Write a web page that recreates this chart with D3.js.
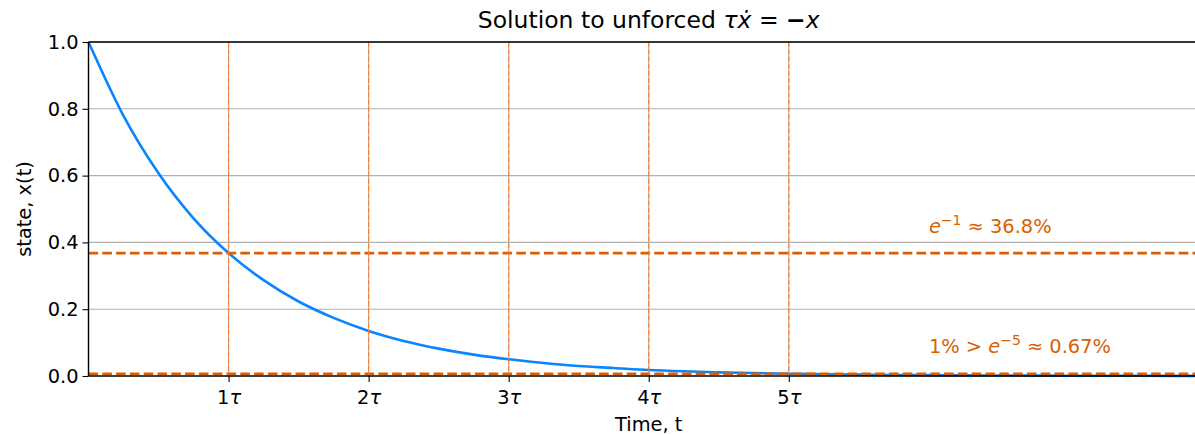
<!DOCTYPE html>
<html>
<head>
<meta charset="utf-8">
<script src="https://cdn.jsdelivr.net/npm/d3@7"></script>
<style>
  html, body { margin: 0; padding: 0; background: #fff; overflow: hidden; }
  svg { display: block; font-family: "DejaVu Sans", sans-serif; }
</style>
</head>
<body>
<svg id="chart" width="1195" height="435"></svg>
<script>
// Unforced first-order response, time in units of tau
const timeT = [0, 0.25, 0.5, 0.75, 1, 1.25, 1.5, 1.75, 2, 2.25, 2.5, 2.75, 3, 3.25, 3.5, 3.75, 4,
               4.25, 4.5, 4.75, 5, 5.25, 5.5, 5.75, 6, 6.25, 6.5, 6.75, 7, 7.25, 7.5, 7.75, 8];
const stateX = [1, 0.779, 0.607, 0.472, 0.368, 0.287, 0.223, 0.174, 0.135, 0.105, 0.082, 0.064, 0.050,
                0.039, 0.030, 0.024, 0.018, 0.014, 0.011, 0.0087, 0.0067, 0.0052, 0.0041, 0.0032,
                0.0025, 0.0019, 0.0015, 0.0012, 0.0009, 0.0007, 0.00055, 0.00043, 0.00034];

// Time-constant markers and their tick labels
const tauTicks = [1, 2, 3, 4, 5];
const tauLabels = ["1", "2", "3", "4", "5"];
const yTicks = [0.0, 0.2, 0.4, 0.6, 0.8, 1.0];

// Reference levels and their annotations
const refLevels = [0.368, 0.0067];
const refLabelX = [6, 6];
const refLabelY = [0.428, 0.069];

const svg = d3.select("#chart");
const mLeft = 88.5, mTop = 42, mBottom = 376, mRight = 1209;

const x = d3.scaleLinear().domain([0, 8]).range([mLeft, mRight]);
const y = d3.scaleLinear().domain([0, 1]).range([mBottom, mTop]);

const fontSize = 19.4;
const darkOrange = "#d95f02";
const lightOrange = "#ff7f2a";

// horizontal grid
svg.append("g")
  .selectAll("line").data(yTicks.filter(d => d > 0)).join("line")
  .attr("x1", mLeft).attr("x2", mRight)
  .attr("y1", d => y(d)).attr("y2", d => y(d))
  .attr("stroke", "#b0b0b0").attr("stroke-width", 1.1);

// vertical grid at tau ticks
svg.append("g")
  .selectAll("line").data(tauTicks).join("line")
  .attr("x1", d => x(d)).attr("x2", d => x(d))
  .attr("y1", mTop).attr("y2", mBottom)
  .attr("stroke", "#b0b0b0").attr("stroke-width", 1.1);

// response curve
const line = d3.line().x((d, i) => x(timeT[i])).y(d => y(d)).curve(d3.curveMonotoneX);
svg.append("path")
  .datum(stateX)
  .attr("d", line)
  .attr("fill", "none")
  .attr("stroke", "#0a84ff")
  .attr("stroke-width", 2.6);

// reference levels
svg.append("g")
  .selectAll("line").data(refLevels).join("line")
  .attr("x1", mLeft).attr("x2", mRight)
  .attr("y1", d => y(d)).attr("y2", d => y(d))
  .attr("stroke", darkOrange).attr("stroke-width", 2.6)
  .attr("stroke-dasharray", "9.6,4.2");

// tau markers
svg.append("g")
  .selectAll("line").data(tauTicks).join("line")
  .attr("x1", d => x(d)).attr("x2", d => x(d))
  .attr("y1", mTop).attr("y2", mBottom)
  .attr("stroke", lightOrange).attr("stroke-width", 1.2)
  .attr("stroke-dasharray", "5,2.2");

// spines
svg.append("line").attr("x1", mLeft).attr("x2", mLeft).attr("y1", mTop).attr("y2", mBottom)
  .attr("stroke", "#000").attr("stroke-width", 1.4);
svg.append("line").attr("x1", mLeft).attr("x2", mRight).attr("y1", mTop).attr("y2", mTop)
  .attr("stroke", "#000").attr("stroke-width", 1.4);
svg.append("line").attr("x1", mLeft).attr("x2", mRight).attr("y1", mBottom).attr("y2", mBottom)
  .attr("stroke", "#000").attr("stroke-width", 1.4);

// y axis
const yAxis = d3.axisLeft(y).tickValues(yTicks).tickFormat(d3.format(".1f")).tickSize(6).tickPadding(4);
const gy = svg.append("g").attr("transform", `translate(${mLeft},0)`).call(yAxis);
gy.select(".domain").remove();
gy.selectAll(".tick line").attr("stroke", "#000").attr("stroke-width", 1.1);
gy.selectAll(".tick text").attr("font-size", fontSize).attr("fill", "#000")
  .attr("font-family", "DejaVu Sans");

// x axis
const xAxis = d3.axisBottom(x).tickValues(tauTicks).tickFormat("").tickSize(6);
const gx = svg.append("g").attr("transform", `translate(0,${mBottom})`).call(xAxis);
gx.select(".domain").remove();
gx.selectAll(".tick line").attr("stroke", "#000").attr("stroke-width", 1.1);
gx.selectAll(".tick").each(function(d, i) {
  const t = d3.select(this).append("text")
    .attr("y", 28).attr("text-anchor", "middle")
    .attr("font-size", fontSize).attr("fill", "#000").attr("font-family", "DejaVu Sans");
  t.append("tspan").text(tauLabels[i]);
  t.append("tspan").attr("font-style", "italic").text("τ");
});

// axis labels
svg.append("text")
  .attr("x", (mLeft + mRight) / 2).attr("y", 431)
  .attr("text-anchor", "middle").attr("font-size", fontSize)
  .text("Time, t");
svg.append("text")
  .attr("transform", `translate(31,${(mTop + mBottom) / 2}) rotate(-90)`)
  .attr("text-anchor", "middle").attr("font-size", fontSize)
  .text("state, x(t)");

// title
const title = svg.append("text")
  .attr("x", (mLeft + mRight) / 2).attr("y", 28)
  .attr("text-anchor", "middle").attr("font-size", 23.5);
title.append("tspan").text("Solution to unforced ");
title.append("tspan").attr("font-style", "italic").text("τẋ");
title.append("tspan").text(" = ");
title.append("tspan").attr("font-weight", "bold").text("−");
title.append("tspan").attr("font-style", "italic").text("x");

// annotations
const ann = [
  { pre: "", exp: "−1", post: " ≈ 36.8%" },
  { pre: "1% > ", exp: "−5", post: " ≈ 0.67%" }
];
ann.forEach((a, i) => {
  const t = svg.append("text")
    .attr("x", x(refLabelX[i])).attr("y", y(refLabelY[i]))
    .attr("font-size", fontSize).attr("fill", darkOrange);
  if (a.pre) t.append("tspan").text(a.pre);
  t.append("tspan").attr("font-style", "italic").text("e");
  t.append("tspan").attr("font-size", 14).attr("dy", -8).text(a.exp);
  t.append("tspan").attr("dy", 8).text(a.post);
});
</script>
</body>
</html>
